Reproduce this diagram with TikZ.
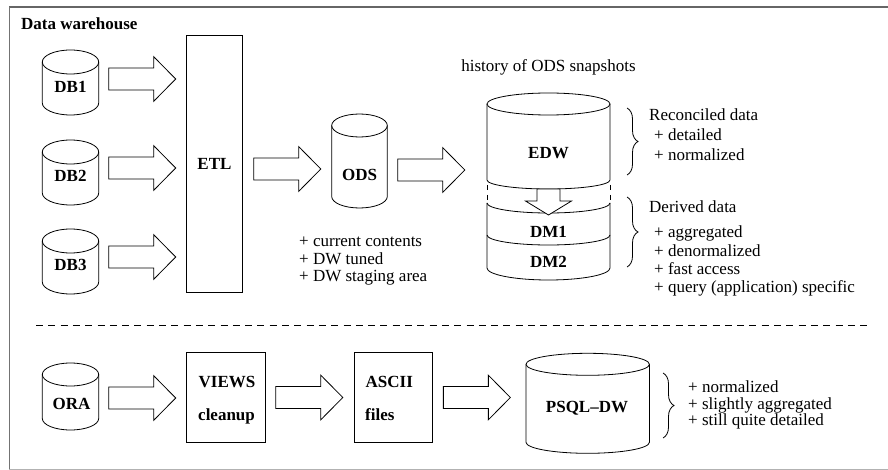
\documentclass[tikz,border=0pt]{standalone}
\usepackage{fontspec}
\setmainfont{Liberation Serif}
\usetikzlibrary{calc,decorations.pathreplacing}
\newcommand\myfs{\fontsize{17}{17}\selectfont}
% cylinder: name, cx, ytop, ybottom, rx, ry
\newcommand\dbcyl[6]{%
  \draw[shapeline] ({#2-#5},{#3+#6}) -- ({#2-#5},{#4-#6})
     arc[start angle=180,end angle=360,x radius=#5pt,y radius=#6pt] -- ({#2+#5},{#3+#6});
  \draw[shapeline] (#2,{#3+#6}) ellipse[x radius=#5pt,y radius=#6pt];
  \node[inner sep=0pt,outer sep=0pt,minimum width={2*#5},minimum height={#4-#3}] (#1) at (#2,{(#3+#4)/2}) {};
}
\newcommand\blockarrow[1]{%
  \draw[shapeline,shift={(#1)}] (0,-11) -- (45,-11) -- (45,-22.3) -- (67,0) -- (45,22.3) -- (45,11) -- (0,11) -- cycle;
}
\begin{document}
\begin{tikzpicture}[x=1pt,y=-1pt,
  shapeline/.style={line width=0.8pt,line join=miter},
  lbl/.style={font=\myfs\bfseries,inner sep=0pt},
  txt/.style={font=\myfs,inner sep=0pt,anchor=base west},
  btxt/.style={font=\myfs\bfseries,inner sep=0pt,anchor=base west},
  box/.style={draw,line width=0.8pt,inner sep=0pt,outer sep=0pt},
  brc/.style={decorate,decoration={brace,amplitude=11pt},line width=0.8pt},
]
\useasboundingbox (0,0) rectangle (888,470);
% frame
\draw[black!60,line width=1.3pt] (888,7) -- (9,7);
\draw[black!55,line width=1pt] (9,7) -- (9,469);
\draw[black!30,line width=1pt] (9,469) -- (888,469);
\node[btxt] (title) at (21,30) {Data warehouse};

% sources
\dbcyl{DB1}{70.5}{50}{115}{28.2}{12}
\node[lbl] (DB1l) at (70.5,87) {DB1};
\dbcyl{DB2}{70.5}{140}{205}{28.2}{12}
\node[lbl] (DB2l) at (70.5,176) {DB2};
\dbcyl{DB3}{70.5}{229}{294}{28.2}{12}
\node[lbl] (DB3l) at (70.5,265) {DB3};

\node[box,lbl,minimum width=55.6,minimum height=256.6] (ETL) at (214.5,164) {ETL};

\dbcyl{ODS}{359.5}{114}{208}{27.8}{11.5}
\node[lbl] (ODSl) at (359.5,175) {ODS};

% EDW / DM stack
\node[inner sep=0pt,outer sep=0pt,minimum width=123,minimum height=187] (EDW) at (548.5,186.5) {};
\draw[shapeline] (487,104) -- (487,180) arc[start angle=180,end angle=360,x radius=61.5pt,y radius=9pt] -- (610,104);
\draw[shapeline] (548.5,104) ellipse[x radius=61.5pt,y radius=11pt];
\draw[shapeline,dash pattern=on 5pt off 5pt,dash phase=5pt] (487,180) -- (487,203);
\draw[shapeline,dash pattern=on 5pt off 5pt,dash phase=5pt] (610,180) -- (610,203);
\draw[shapeline] (487,203) arc[start angle=180,end angle=360,x radius=61.5pt,y radius=10pt];
\draw[shapeline] (487,203) -- (487,268) arc[start angle=180,end angle=360,x radius=61.5pt,y radius=12pt] -- (610,203);
\draw[shapeline] (487,235) arc[start angle=180,end angle=360,x radius=61.5pt,y radius=10pt];
\node[lbl] (EDWl) at (548.5,153) {EDW};
\node[lbl] (DM1) at (548.5,232) {DM1};
\node[lbl] (DM2) at (548.5,262) {DM2};
\coordinate (a9) at ($(EDW.north)+(0,96)$);
\draw[shapeline,fill=white,shift={(a9)}] (-11.5,0) -- (11.5,0) -- (11.5,12) -- (23,12) -- (0,26) -- (-23,12) -- (-11.5,12) -- cycle;
\node[txt,anchor=base] (hist) at (548.5,72) {history of ODS snapshots};

% arrows, top row
\coordinate (a1) at ($(DB1.east |- DB1l.center)+(10,-8)$);
\coordinate (a2) at ($(DB2.east |- DB2l.center)+(10,-8)$);
\coordinate (a3) at ($(DB3.east |- DB3l.center)+(10,-8)$);
\coordinate (a4) at ($(ETL.east |- ODSl.center)+(11.5,-6)$);
\coordinate (a5) at ($(ODS.east |- ODSl.center)+(10.5,-5)$);
\blockarrow{a1}\blockarrow{a2}\blockarrow{a3}\blockarrow{a4}\blockarrow{a5}

% ODS notes
\node[txt] (o1) at (299,247) {+ current contents};
\node[txt] (o2) at (299,264) {+ DW tuned};
\node[txt] (o3) at (299,281) {+ DW staging area};

% right notes
\draw[brc] (627,108) -- (627,175);
\node[txt] (r0) at (649,121) {Reconciled data};
\node[txt] (r1) at (654,141) {+ detailed};
\node[txt] (r2) at (654,161) {+ normalized};
\draw[brc] (627,197) -- (627,267);
\node[txt] (d0) at (649,213) {Derived data};
\node[txt] (d1) at (654,237) {+ aggregated};
\node[txt] (d2) at (654,256) {+ denormalized};
\node[txt] (d3) at (654,274) {+ fast access};
\node[txt] (d4) at (654,292) {+ query (application) specific};

% separator
\draw[line width=0.7pt,dash pattern=on 7pt off 5.3pt] (36,325) -- (867,325);

% bottom row
\dbcyl{ORA}{70.5}{363}{430}{28.2}{11.5}
\node[lbl] (ORAl) at (71.5,404) {ORA};
\node[box,minimum width=78.6,minimum height=89.6] (VIEWS) at (226,397.5) {};
\node[btxt] (v1) at (198.5,387) {VIEWS};
\node[btxt] (v2) at (198,420) {cleanup};
\node[box,minimum width=78.3,minimum height=89.6] (ASCII) at (393.2,397.5) {};
\node[btxt] (s1) at (365.5,387) {ASCII};
\node[btxt] (s2) at (365,420) {files};
\dbcyl{PSQL}{587.7}{353.3}{453.3}{61.7}{11}
\node[lbl] (PSQLl) at (587,408) {PSQL--DW};
\coordinate (a6) at ($(ORA.east |- ORAl.center)+(10,-6)$);
\coordinate (a7) at ($(VIEWS.east)+(10.5,0)$);
\coordinate (a8) at ($(ASCII.east)+(11,0)$);
\blockarrow{a6}\blockarrow{a7}\blockarrow{a8}
\draw[brc] (663,373) -- (663,438);
\node[txt] (p1) at (688,392) {+ normalized};
\node[txt] (p2) at (688,409) {+ slightly aggregated};
\node[txt] (p3) at (688,425) {+ still quite detailed};
\end{tikzpicture}
\end{document}
